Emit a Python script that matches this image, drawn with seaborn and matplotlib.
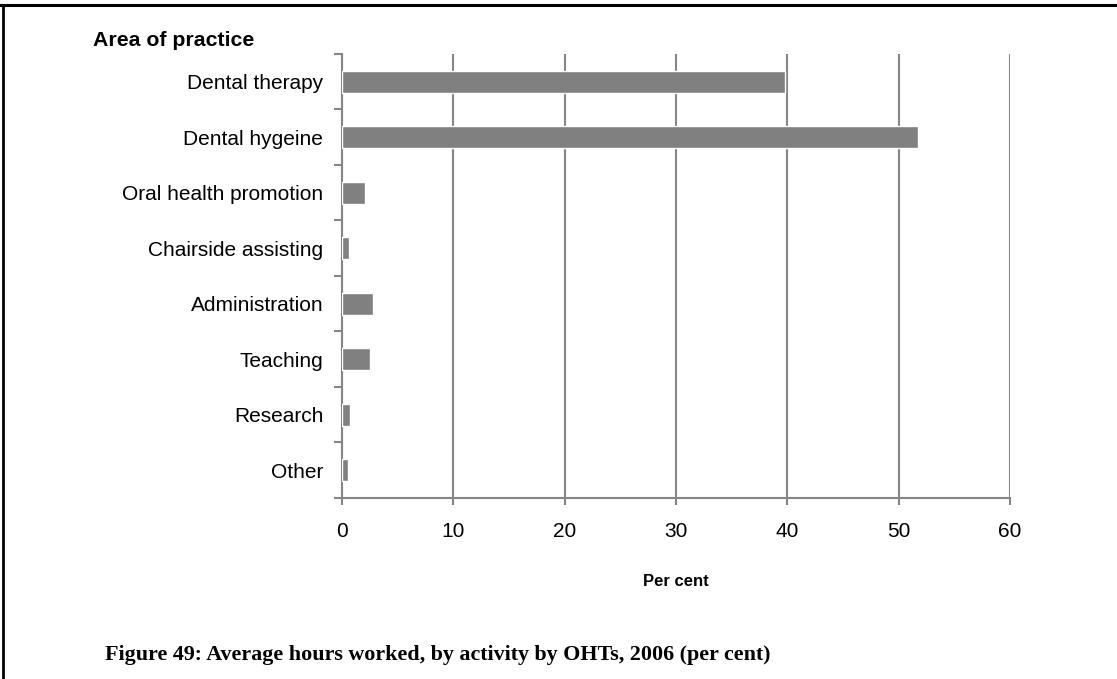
import matplotlib
matplotlib.use("Agg")
import matplotlib.pyplot as plt
from matplotlib.lines import Line2D
from matplotlib.ticker import FixedLocator
import seaborn as sns
import pandas as pd
import numpy as np

categories = [
    "Dental therapy",
    "Dental hygeine",
    "Oral health promotion",
    "Chairside assisting",
    "Administration",
    "Teaching",
    "Research",
    "Other",
]
per_cent = [39.8, 51.7, 2.1, 0.6, 2.8, 2.5, 0.7, 0.5]
x_ticks = [0, 10, 20, 30, 40, 50, 60]

df = pd.DataFrame({"area": categories, "pct": per_cent})

sns.set_theme(style="white")
plt.rcParams["font.family"] = ["Liberation Sans", "DejaVu Sans"]
plt.rcParams["text.color"] = "black"

fig = plt.figure(figsize=(11.17, 6.79), dpi=100)
ax = fig.add_axes([0.3062, 0.2666, 0.5980, 0.6539])

grid_c = "#868686"
sns.barplot(data=df, x="pct", y="area", orient="h", color="#808080",
            width=0.4, saturation=1, ax=ax, zorder=3)

ax.set_xlim(0, 60)
ax.set_ylim(len(categories) - 0.5, -0.5)
ax.set_xticks(x_ticks)
ax.set_xticklabels([str(t) for t in x_ticks], fontsize=15, color="black")
ax.tick_params(axis="x", which="major", bottom=True, direction="out", length=5,
               width=1.5, color=grid_c, pad=12)

# category labels at centres, tick marks at the boundaries between them
ax.tick_params(axis="y", which="major", left=True, length=0, pad=13.5,
               labelsize=15, labelcolor="black")
ax.yaxis.set_minor_locator(FixedLocator(np.arange(-0.5, len(categories), 1.0)))
ax.tick_params(axis="y", which="minor", left=True, direction="out", length=6,
               width=1.5, color=grid_c)

ax.xaxis.grid(True, color=grid_c, linewidth=1.5, zorder=0)
ax.set_axisbelow(True)
for side in ["top", "right"]:
    ax.spines[side].set_visible(False)
for side in ["left", "bottom"]:
    ax.spines[side].set_color(grid_c)
    ax.spines[side].set_linewidth(1.5)

ax.set_xlabel("Per cent", fontsize=12, fontweight="bold", labelpad=24, color="black")
ax.set_ylabel("")

fig.text(0.0833, 0.94, "Area of practice", fontsize=15.3, fontweight="bold",
         ha="left", va="center", color="black")

fig.text(0.094, 0.021, "Figure 49: Average hours worked, by activity by OHTs, 2006 (per cent)",
         fontsize=15.8, fontweight="bold", family=["Liberation Serif", "DejaVu Serif"],
         ha="left", va="bottom", color="black")

# page frame lines
fig.add_artist(Line2D([0, 1], [1 - 4.5 / 679, 1 - 4.5 / 679], color="black",
                      linewidth=2.2, transform=fig.transFigure))
fig.add_artist(Line2D([2.5 / 1117, 2.5 / 1117], [0, 1 - 4.5 / 679], color="black",
                      linewidth=2.0, transform=fig.transFigure))

fig.savefig("out.png", dpi=100)
